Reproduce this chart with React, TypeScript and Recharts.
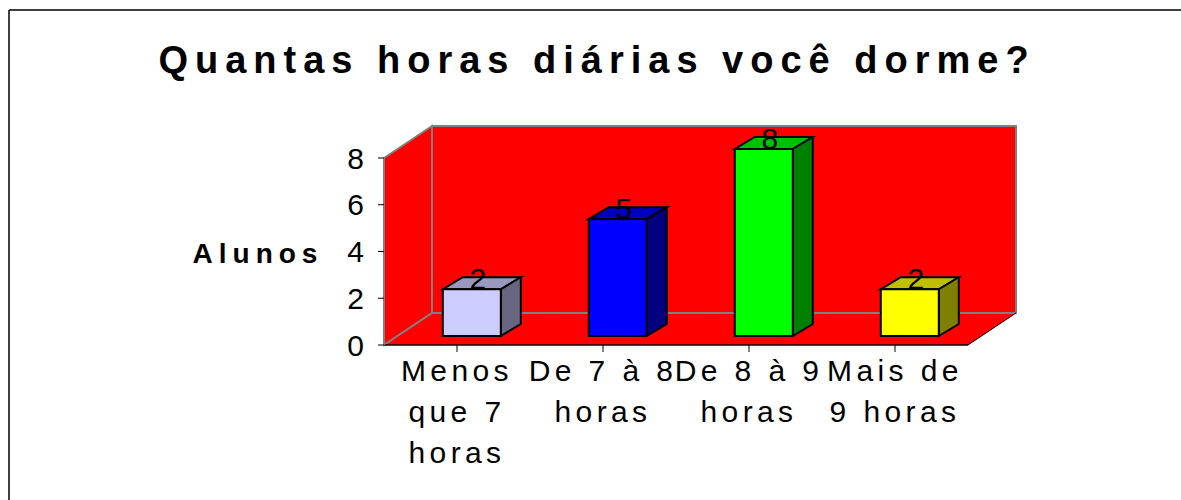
import { BarChart, Bar, XAxis, YAxis, Cell, LabelList, usePlotArea } from "recharts";

const categories = ["Menos\nque 7\nhoras", "De 7 à 8\nhoras", "De 8 à 9\nhoras", "Mais de\n9 horas"];
const alunos = [2, 5, 8, 2];
const yTicks = [0, 2, 4, 6, 8];
const frontColors = ["#CCCCFF", "#0000FF", "#00FF00", "#FFFF00"];
const topColors = ["#9999BF", "#0000BF", "#00BF00", "#BFBF00"];
const sideColors = ["#666680", "#000080", "#008000", "#808000"];

const data = categories.map((name, i) => ({ name, alunos: alunos[i] }));

const FONT = "'Liberation Sans', Arial, sans-serif";
const WALL_DX = 48;
const WALL_DY = 32;
// bars sit in the middle of the floor, not on the front edge
const BAR_SHIFT_X = 15;
const BAR_SHIFT_Y = 9;
const BAR_DX = 20;
const BAR_DY = 12;

function Walls() {
  const plot = usePlotArea();
  if (!plot) return null;
  const { x, y, width, height } = plot;
  const right = x + width;
  const bottom = y + height;
  const backTop = y - WALL_DY;
  const backBottom = bottom - WALL_DY;
  return (
    <g>
      <polygon
        points={`${x},${y} ${x + WALL_DX},${backTop} ${x + WALL_DX},${backBottom} ${x},${bottom}`}
        fill="#FF0000"
        stroke="#808080"
        strokeWidth={2}
      />
      <polygon
        points={`${x + WALL_DX},${backTop} ${right + WALL_DX},${backTop} ${right + WALL_DX},${backBottom} ${x + WALL_DX},${backBottom}`}
        fill="#FF0000"
        stroke="#808080"
        strokeWidth={2}
      />
      <polygon points={`${x},${bottom} ${right},${bottom} ${right + WALL_DX},${backBottom} ${x + WALL_DX},${backBottom}`} fill="#FF0000" />
      <line x1={x} y1={bottom} x2={x + WALL_DX} y2={backBottom} stroke="#808080" strokeWidth={2} />
      <line x1={x + WALL_DX} y1={backBottom} x2={right + WALL_DX} y2={backBottom} stroke="#808080" strokeWidth={2} />
      <line x1={right} y1={bottom} x2={right + WALL_DX} y2={backBottom} stroke="#000000" strokeWidth={1} />
    </g>
  );
}

function Bar3D(props: any) {
  const { x, y, width, height, index } = props;
  const left = x + BAR_SHIFT_X;
  const top = y - BAR_SHIFT_Y;
  const right = left + width;
  const base = top + height;
  return (
    <g stroke="#000000" strokeWidth={2} strokeLinejoin="miter">
      <polygon
        points={`${left},${top} ${left + BAR_DX},${top - BAR_DY} ${right + BAR_DX},${top - BAR_DY} ${right},${top}`}
        fill={topColors[index]}
      />
      <polygon
        points={`${right},${top} ${right + BAR_DX},${top - BAR_DY} ${right + BAR_DX},${base - BAR_DY} ${right},${base}`}
        fill={sideColors[index]}
      />
      <rect x={left} y={top} width={width} height={height} fill={frontColors[index]} />
    </g>
  );
}

function ValueLabel(props: any) {
  const { x, y, width, value } = props;
  return (
    <text
      x={x + width / 2 + BAR_SHIFT_X + 6}
      y={y - BAR_SHIFT_Y}
      textAnchor="middle"
      fontFamily={FONT}
      fontSize={30}
      fill="#000000"
    >
      {value}
    </text>
  );
}

function CategoryTick(props: any) {
  const { x, y, payload } = props;
  return (
    <text x={x} y={y} textAnchor="middle" fontFamily={FONT} fontSize={30} letterSpacing={4.4} fill="#000000">
      {String(payload.value)
        .split("\n")
        .map((line: string, i: number) => (
          <tspan key={i} x={x} y={y + 27 + i * 41}>
            {line}
          </tspan>
        ))}
    </text>
  );
}

export default function App() {
  return (
    <div style={{ position: "absolute", left: 0, top: 0, width: 1181, height: 500, background: "#FFFFFF" }}>
      <BarChart
        width={1181}
        height={500}
        data={data}
        margin={{ top: 158, right: 213, bottom: 125, left: 284 }}
        barCategoryGap="30%"
      >
        <Walls />
        <line x1={9} y1={10} x2={1181} y2={10} stroke="#000000" strokeWidth={1.5} />
        <line x1={9} y1={10} x2={9} y2={500} stroke="#000000" strokeWidth={1.5} />
        <text
          x={597}
          y={73}
          textAnchor="middle"
          fontFamily={FONT}
          fontSize={38}
          fontWeight="bold"
          letterSpacing={7}
          fill="#000000"
        >
          Quantas horas diárias você dorme?
        </text>
        <text
          x={258}
          y={263}
          textAnchor="middle"
          fontFamily={FONT}
          fontSize={28}
          fontWeight="bold"
          letterSpacing={6}
          fill="#000000"
        >
          Alunos
        </text>
        <XAxis
          dataKey="name"
          interval={0}
          tick={<CategoryTick />}
          axisLine={{ stroke: "#000000", strokeWidth: 1.5 }}
          tickLine={{ stroke: "#000000", strokeWidth: 1 }}
          tickSize={7}
          height={30}
        />
        <YAxis
          domain={[0, 8]}
          ticks={yTicks}
          width={100}
          axisLine={{ stroke: "#808080", strokeWidth: 2 }}
          tickLine={{ stroke: "#000000", strokeWidth: 1 }}
          tickSize={6}
          tickMargin={14}
          tick={{ fontFamily: FONT, fontSize: 30, fill: "#000000" }}
        />
        <Bar dataKey="alunos" isAnimationActive={false} shape={<Bar3D />}>
          {data.map((d) => (
            <Cell key={d.name} />
          ))}
          <LabelList dataKey="alunos" content={<ValueLabel />} />
        </Bar>
      </BarChart>
    </div>
  );
}
